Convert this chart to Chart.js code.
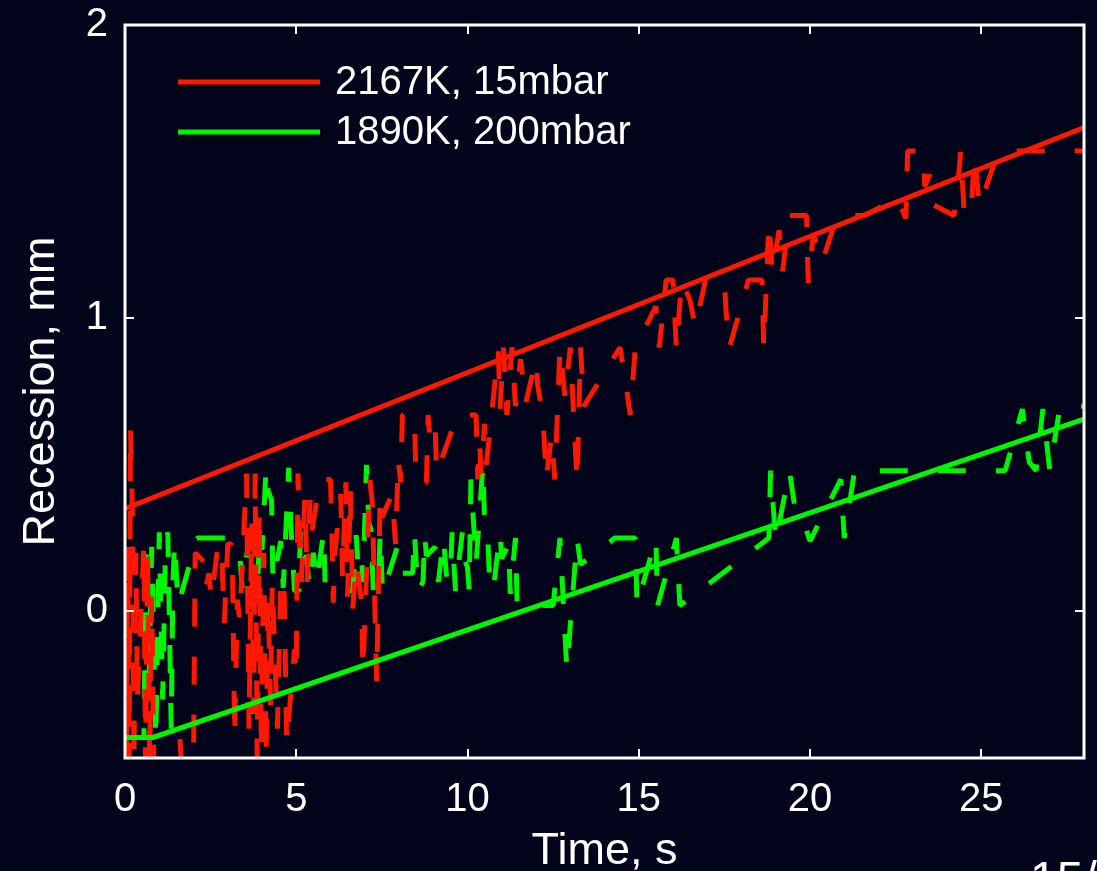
<!DOCTYPE html>
<html>
<head>
<meta charset="utf-8">
<script src="https://cdn.jsdelivr.net/npm/chart.js@4.4.1/dist/chart.umd.min.js"></script>
<style>
  html, body { margin: 0; padding: 0; background: #02041b; overflow: hidden; }
  #wrap { position: relative; width: 1097px; height: 871px; }
</style>
</head>
<body>
<div id="wrap"><canvas id="chart"></canvas></div>
<script>
// axis ticks
const xTicks = [0, 5, 10, 15, 20, 25];
const yTicks = [0, 1, 2];

// fitted lines
const redFitT = [0, 28];
const redFitV = [0.35, 1.65];
const greenFitT = [0, 0.82, 28];
const greenFitV = [-0.43, -0.43, 0.656];

// measured recession, 2167K / 15mbar
const redT = [
  0.00, 0.04, 0.08, 0.12, 0.16, 0.22, 0.26, 0.32, 0.36, 0.55,
  0.60, 0.66, 0.72, 0.78, 0.84, 1.60, 1.65, 2.00, 2.05, 2.30,
  2.36, 2.45, 2.52, 2.72, 2.80, 2.84, 2.90, 3.00, 3.10, 3.14,
  3.20, 3.28, 3.35, 3.55, 3.62, 3.70, 3.76, 3.80, 3.86, 3.92,
  3.98, 4.05, 4.12, 4.18, 4.25, 4.30, 4.45, 4.55, 4.65, 4.72,
  4.95, 5.00, 5.05, 5.15, 5.25, 5.32, 5.40, 5.45, 5.70, 6.00,
  6.04, 6.08, 6.12, 6.30, 6.35, 6.45, 6.50, 6.58, 6.65, 6.75,
  6.90, 6.95, 7.15, 7.22, 7.35, 7.45, 7.50, 7.80, 7.90, 7.98,
  8.05, 8.10, 8.45, 8.50, 8.80, 8.85, 8.90, 9.05, 9.10, 9.70,
  10.25, 10.30, 10.35, 10.40, 10.50, 10.55, 10.90, 10.95, 11.05, 11.15,
  11.30, 11.40, 11.55, 11.70, 12.00, 12.05, 12.20, 12.30, 12.45, 12.55,
  12.70, 12.85, 13.00, 13.10, 13.20, 13.30, 13.40, 14.45, 14.60, 14.75,
  14.90, 15.50, 15.60, 15.80, 16.00, 16.10, 16.25, 16.50, 16.65, 16.95,
  17.50, 17.55, 17.65, 18.20, 18.60, 18.65, 18.80, 18.90, 19.10, 19.20,
  19.40, 19.90, 19.95, 20.10, 20.35, 20.80, 21.60, 22.55, 22.80, 22.85,
  23.30, 23.35, 23.50, 23.55, 24.20, 24.30, 24.40, 24.50, 24.70, 24.80,
  24.95, 25.50, 28.00
];
const redV = [
  0.20, -0.52, 0.22, -0.52, 0.63, 0.32, -0.52, 0.20, -0.30, 0.22,
  -0.52, 0.20, -0.52, 0.05, -0.52, -0.43, -0.52, -0.52, 0.20, 0.17,
  0.08, 0.13, 0.04, 0.23, 0.23, 0.15, -0.04, 0.23, 0.23, 0.15,
  -0.43, 0.04, -0.03, 0.47, -0.40, 0.30, -0.35, 0.47, -0.50, 0.35,
  -0.48, 0.20, -0.50, 0.05, -0.32, 0.10, -0.40, 0.12, 0.06, -0.45,
  -0.13, -0.22, 0.47, 0.10, 0.39, 0.10, 0.38, 0.27, 0.45, 0.45,
  0.28, 0.03, 0.19, 0.40, 0.12, 0.44, 0.05, 0.42, 0.01, 0.17,
  0.04, -0.20, 0.45, 0.37, -0.24, 0.40, 0.32, 0.40, 0.23, 0.52,
  0.44, 0.67, 0.67, 0.44, 0.44, 0.67, 0.59, 0.64, 0.47, 0.67,
  0.67, 0.45, 0.58, 0.47, 0.64, 0.50, 0.89, 0.69, 0.90, 0.67,
  0.90, 0.70, 0.86, 0.71, 0.86, 0.77, 0.67, 0.45, 0.60, 0.45,
  0.90, 0.73, 0.90, 0.67, 0.44, 0.90, 0.70, 0.90, 0.80, 0.67,
  0.90, 1.04, 0.90, 1.13, 1.13, 0.89, 1.13, 1.06, 0.97, 1.13,
  1.13, 1.02, 0.90, 1.13, 1.13, 0.90, 1.33, 1.16, 1.30, 1.16,
  1.35, 1.35, 1.12, 1.29, 1.19, 1.35, 1.35, 1.41, 1.34, 1.57,
  1.57, 1.45, 1.49, 1.39, 1.35, 1.43, 1.57, 1.36, 1.35, 1.56,
  1.38, 1.57, 1.57
];

// measured recession, 1890K / 200mbar
const greenT = [
  0.00, 0.55, 0.62, 0.70, 0.78, 0.90, 1.00, 1.10, 1.18, 1.25,
  1.35, 1.40, 1.45, 1.55, 2.10, 3.00, 3.35, 3.42, 3.65, 3.75,
  3.85, 3.95, 4.00, 4.12, 4.18, 4.28, 4.32, 4.55, 4.62, 4.78,
  4.85, 4.95, 5.08, 5.12, 5.20, 5.30, 5.38, 5.50, 5.60, 5.80,
  5.85, 6.65, 6.75, 6.80, 6.90, 6.95, 7.05, 7.12, 7.18, 7.25,
  7.40, 7.45, 7.52, 7.95, 8.05, 8.40, 8.45, 8.55, 8.70, 8.75,
  8.80, 9.05, 9.15, 9.30, 9.40, 9.50, 9.55, 9.65, 9.85, 9.90,
  10.00, 10.05, 10.10, 10.15, 10.20, 10.25, 10.45, 10.50, 10.60, 10.65,
  10.75, 10.95, 11.00, 11.20, 11.25, 11.40, 11.45, 12.50, 12.70, 12.90,
  13.20, 13.30, 14.30, 14.90, 14.95, 15.50, 15.55, 16.10, 16.20, 18.80,
  18.85, 19.00, 19.40, 19.55, 19.80, 20.00, 20.90, 21.00, 21.30, 23.00,
  24.80, 25.70, 26.20, 26.40, 26.60, 26.80, 27.00, 27.30, 28.00
];
const greenV = [
  -0.43, -0.43, 0.22, -0.25, 0.22, -0.44, 0.27, -0.30, 0.20, 0.27,
  -0.40, 0.10, 0.24, 0.02, 0.25, 0.25, 0.20, 0.08, 0.27, 0.05,
  0.05, 0.29, 0.21, 0.49, 0.41, 0.38, 0.10, 0.24, 0.08, 0.49,
  0.28, 0.07, 0.07, 0.27, 0.17, 0.19, 0.08, 0.20, 0.10, 0.27,
  0.07, 0.07, 0.26, 0.16, 0.20, 0.10, 0.50, 0.30, 0.28, 0.07,
  0.07, 0.27, 0.06, 0.22, 0.13, 0.13, 0.27, 0.07, 0.10, 0.26,
  0.19, 0.22, 0.10, 0.25, 0.10, 0.12, 0.27, 0.07, 0.27, 0.18,
  0.15, 0.07, 0.45, 0.35, 0.26, 0.16, 0.50, 0.30, 0.23, 0.09,
  0.07, 0.27, 0.18, 0.23, 0.06, 0.25, 0.02, 0.02, 0.25, -0.20,
  0.25, 0.16, 0.25, 0.25, 0.02, 0.25, 0.02, 0.25, 0.02, 0.25,
  0.48, 0.24, 0.48, 0.36, 0.31, 0.24, 0.45, 0.25, 0.48, 0.48,
  0.48, 0.48, 0.69, 0.51, 0.48, 0.69, 0.48, 0.70, 0.70
];

const legendLabels = ["2167K, 15mbar", "1890K, 200mbar"];
const xTitle = "Time, s";
const yTitle = "Recession, mm";

const RED = "rgb(255, 24, 0)";
const GREEN = "rgb(0, 245, 0)";
const WHITE = "#ffffff";
const FONT = "'Liberation Sans', Arial, Helvetica, sans-serif";

const toPoints = (ts, vs) => ts.map((t, i) => ({ x: t, y: vs[i] }));

// frame, inward ticks, legend inside the plot and page number
const framePlugin = {
  id: "frame",
  afterDraw(chart) {
    const { ctx, chartArea: a, scales: { x, y } } = chart;
    ctx.save();
    ctx.strokeStyle = WHITE;
    ctx.lineWidth = 3;
    ctx.strokeRect(a.left, a.top, a.right - a.left, a.bottom - a.top);

    ctx.lineWidth = 2;
    ctx.beginPath();
    xTicks.forEach((v) => {
      const px = Math.round(x.getPixelForValue(v));
      ctx.moveTo(px, a.bottom);
      ctx.lineTo(px, a.bottom - 9);
      ctx.moveTo(px, a.top);
      ctx.lineTo(px, a.top + 9);
    });
    yTicks.forEach((v) => {
      const py = Math.round(y.getPixelForValue(v));
      ctx.moveTo(a.left, py);
      ctx.lineTo(a.left + 9, py);
      ctx.moveTo(a.right, py);
      ctx.lineTo(a.right - 9, py);
    });
    ctx.stroke();

    const fits = chart.data.datasets.filter((d) => d.legend);
    fits.forEach((d, i) => {
      const ly = a.top + 57 + i * 50;
      ctx.strokeStyle = d.borderColor;
      ctx.lineWidth = 5;
      ctx.beginPath();
      ctx.moveTo(a.left + 53, ly);
      ctx.lineTo(a.left + 195, ly);
      ctx.stroke();
      ctx.fillStyle = WHITE;
      ctx.font = "40px " + FONT;
      ctx.textBaseline = "middle";
      ctx.textAlign = "left";
      ctx.fillText(d.label, a.left + 210, ly + 1);
    });

    ctx.font = "48px " + FONT;
    ctx.textBaseline = "alphabetic";
    ctx.fillText("15/", 1030, 895);
    ctx.restore();
  },
};

const dataLine = (label, ts, vs, color) => ({
  label: label,
  data: toPoints(ts, vs),
  borderColor: color,
  borderWidth: 5,
  borderDash: [28, 30],
  borderCapStyle: "butt",
  borderJoinStyle: "bevel",
  pointRadius: 0,
  clip: 0,
});

const ctx = document.getElementById("chart");

new Chart(ctx, {
  type: "line",
  data: {
    datasets: [
      {
        label: legendLabels[0],
        legend: true,
        data: toPoints(redFitT, redFitV),
        borderColor: RED,
        borderWidth: 5,
        pointRadius: 0,
        clip: 0,
      },
      {
        label: legendLabels[1],
        legend: true,
        data: toPoints(greenFitT, greenFitV),
        borderColor: GREEN,
        borderWidth: 5,
        pointRadius: 0,
        clip: 0,
      },
      dataLine("red data", redT, redV, RED),
      dataLine("green data", greenT, greenV, GREEN),
    ],
  },
  options: {
    responsive: true,
    maintainAspectRatio: false,
    animation: false,
    layout: {
      padding: { left: 0, top: 25, right: 13, bottom: 0 },
    },
    plugins: {
      legend: { display: false },
      tooltip: { enabled: false },
    },
    scales: {
      x: {
        type: "linear",
        min: 0,
        max: 28,
        afterBuildTicks: (scale) => {
          scale.ticks = xTicks.map((v) => ({ value: v }));
        },
        afterFit: (scale) => {
          scale.height = 113;
          scale.paddingLeft = 0;
          scale.paddingRight = 0;
        },
        grid: { display: false, drawTicks: false },
        border: { display: false },
        ticks: {
          color: WHITE,
          padding: 18,
          maxRotation: 0,
          font: { family: FONT, size: 40 },
        },
        title: {
          display: true,
          text: xTitle,
          color: WHITE,
          padding: { top: 0, bottom: -8 },
          font: { family: FONT, size: 45 },
        },
      },
      y: {
        type: "linear",
        min: -0.5,
        max: 2,
        afterBuildTicks: (scale) => {
          scale.ticks = yTicks.map((v) => ({ value: v }));
        },
        afterFit: (scale) => {
          scale.width = 125;
          scale.paddingTop = 0;
          scale.paddingBottom = 0;
        },
        grid: { display: false, drawTicks: false },
        border: { display: false },
        ticks: {
          color: WHITE,
          padding: 17,
          font: { family: FONT, size: 40 },
        },
        title: {
          display: true,
          text: yTitle,
          color: WHITE,
          padding: { top: 15, bottom: 0 },
          font: { family: FONT, size: 45 },
        },
      },
    },
  },
  plugins: [framePlugin],
});
</script>
</body>
</html>
